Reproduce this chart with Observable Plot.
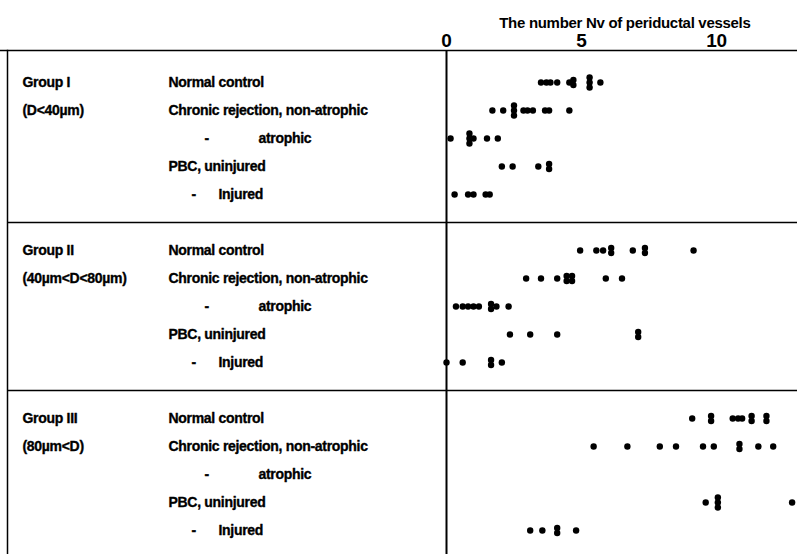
<!DOCTYPE html>
<html>
<head>
<meta charset="utf-8">
<script src="https://cdn.jsdelivr.net/npm/d3@7"></script>
<script src="https://cdn.jsdelivr.net/npm/@observablehq/plot@0.6"></script>
<style>
  html, body { margin: 0; padding: 0; background: #fff; }
</style>
</head>
<body>
<div id="chart"></div>
<script>
// ---- data ----
const title = "The number Nv of periductal vessels";
const xTicks = [0, 5, 10];
const groups = ["Group I", "Group II", "Group III"];
const groupRanges = ["(D<40\u00b5m)", "(40\u00b5m<D<80\u00b5m)", "(80\u00b5m<D)"];
const subgroups = ["Normal control", "Chronic rejection, non-atrophic", "atrophic", "PBC, uninjured", "Injured"];
const dashedSubgroups = ["atrophic", "Injured"]; // shown as "-  <name>" (continuation of the line above)

// Nv values per group, in subgroup order
const groupI_normal   = [3.5, 3.7, 3.85, 4.1, 4.55, 4.7, 4.7, 5.3, 5.3, 5.3, 5.7];
const groupI_crNon    = [1.7, 2.1, 2.5, 2.5, 2.5, 2.85, 3.0, 3.2, 3.65, 3.8, 4.55];
const groupI_crAtr    = [0.15, 0.85, 0.85, 0.85, 1.0, 1.5, 1.9];
const groupI_pbcUn    = [2.05, 2.45, 3.4, 3.8, 3.8];
const groupI_pbcInj   = [0.3, 0.8, 1.0, 1.45, 1.6];

const groupII_normal  = [4.95, 5.55, 5.8, 6.1, 6.1, 6.9, 7.35, 7.35, 9.15];
const groupII_crNon   = [2.95, 3.5, 4.1, 4.45, 4.45, 4.65, 4.65, 5.9, 6.5];
const groupII_crAtr   = [0.35, 0.6, 0.8, 1.0, 1.2, 1.65, 1.65, 1.85, 2.3];
const groupII_pbcUn   = [2.35, 3.1, 4.1, 7.1, 7.1];
const groupII_pbcInj  = [0, 0.6, 1.65, 1.65, 2.05];

const groupIII_normal = [9.1, 9.8, 9.8, 10.6, 10.8, 10.95, 11.3, 11.3, 11.85, 11.85];
const groupIII_crNon  = [5.45, 6.7, 7.9, 8.5, 9.5, 9.9, 10.85, 10.85, 11.55, 12.1];
const groupIII_crAtr  = [];
const groupIII_pbcUn  = [9.6, 10.05, 10.05, 10.05, 12.8];
const groupIII_pbcInj = [3.1, 3.55, 4.1, 4.1, 4.8];

const values = [
  [groupI_normal, groupI_crNon, groupI_crAtr, groupI_pbcUn, groupI_pbcInj],
  [groupII_normal, groupII_crNon, groupII_crAtr, groupII_pbcUn, groupII_pbcInj],
  [groupIII_normal, groupIII_crNon, groupIII_crAtr, groupIII_pbcUn, groupIII_pbcInj]
];

// ---- derived tables ----
const ROWS_PER_GROUP = 6; // 5 subgroup rows + 1 gap row
const STACK = 0.18;       // vertical spacing of tied values, in row units
const rowIndex = (g, s) => g * ROWS_PER_GROUP + s;

const points = [];
values.forEach((gv, g) => gv.forEach((arr, s) => {
  const counts = d3.rollup(arr, v => v.length, d => d);
  const seen = new Map();
  arr.forEach(v => {
    const n = counts.get(v);
    const k = seen.get(v) || 0;
    seen.set(v, k + 1);
    points.push({x: v, y: rowIndex(g, s) + (k - (n - 1) / 2) * STACK});
  });
}));

const groupLabels = groups.map((t, g) => ({text: t, y: rowIndex(g, 0)}));
const rangeLabels = groupRanges.map((t, g) => ({text: t, y: rowIndex(g, 1)}));
const subLabels = [];
groups.forEach((_, g) => subgroups.forEach((t, s) => subLabels.push({text: t, y: rowIndex(g, s), dashed: dashedSubgroups.includes(t), name: t})));
const separators = groups.slice(1).map((_, g) => rowIndex(g, 5));

const textOpts = {y: "y", frameAnchor: "left", textAnchor: "start", fill: "black", stroke: "black", strokeWidth: 0.35};

const chart = Plot.plot({
  width: 797,
  height: 554,
  marginTop: 50,
  marginLeft: 0,
  marginRight: 0,
  marginBottom: 0,
  x: {domain: [0, 13], range: [446, 797], axis: null},
  y: {domain: [0, 16], range: [82, 530], axis: null},
  style: {
    fontFamily: "'Liberation Sans', Arial, sans-serif",
    fontWeight: "bold",
    fontSize: "14px",
    letterSpacing: "-0.3px",
    color: "black",
    background: "white",
    overflow: "visible"
  },
  marks: [
    Plot.ruleY([0], {dy: -32, stroke: "black", strokeWidth: 1.5}),
    Plot.frame({anchor: "left", insetLeft: 7, strokeWidth: 1.5}),
    Plot.ruleX([0], {strokeWidth: 2}),
    Plot.ruleY(separators, {insetLeft: 7, strokeWidth: 1.5}),
    Plot.axisX(xTicks, {anchor: "top", tickSize: 0, tickPadding: 4, fontSize: 19, fontWeight: "bold", label: null}),
    Plot.text([title], {frameAnchor: "top-right", textAnchor: "end", dx: -47, dy: -33, fontSize: 15}),
    Plot.text(groupLabels, {...textOpts, text: "text", dx: 22}),
    Plot.text(rangeLabels, {...textOpts, text: "text", dx: 22}),
    Plot.text(subLabels.filter(d => !d.dashed), {...textOpts, text: "text", dx: 168}),
    Plot.text(subLabels.filter(d => d.name === "atrophic"), {...textOpts, text: () => "-", dx: 204}),
    Plot.text(subLabels.filter(d => d.name === "atrophic"), {...textOpts, text: "text", dx: 258}),
    Plot.text(subLabels.filter(d => d.name === "Injured"), {...textOpts, text: () => "-", dx: 191}),
    Plot.text(subLabels.filter(d => d.name === "Injured"), {...textOpts, text: "text", dx: 218}),
    Plot.dot(points, {x: "x", y: "y", r: 3.2, fill: "black", stroke: "none"})
  ]
});
document.getElementById("chart").append(chart);
</script>
</body>
</html>
